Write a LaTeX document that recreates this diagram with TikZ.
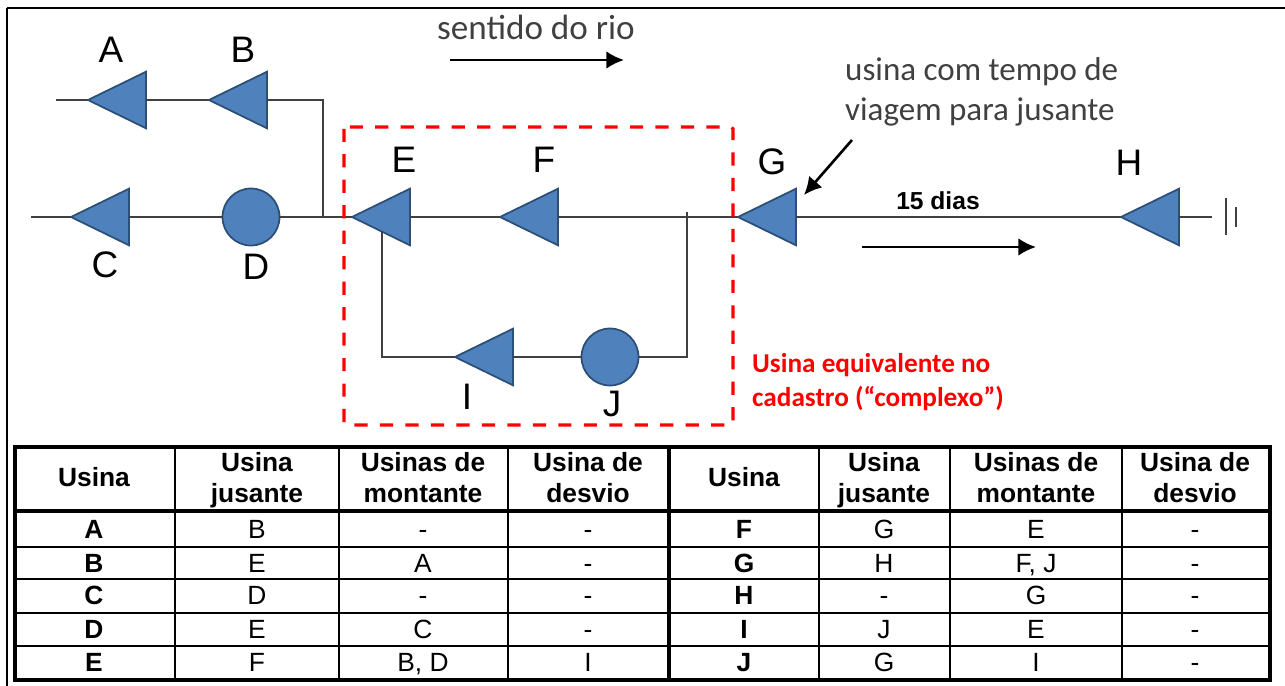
\documentclass[tikz,border=0pt]{standalone}
\usepackage{fontspec}
\setmainfont{Liberation Sans}
\newfontfamily\notefont{Carlito}
\usetikzlibrary{shapes.geometric,arrows.meta}

\definecolor{usinablue}{HTML}{4F81BD}
\definecolor{usinaedge}{HTML}{2B4F77}
\definecolor{riogray}{HTML}{404040}

\tikzset{
  triusina/.style={draw=usinaedge,fill=usinablue,line width=1pt,isosceles triangle,
    isosceles triangle apex angle=52,shape border rotate=180,inner sep=0pt,outer sep=0pt,
    minimum height=1.16cm,anchor=apex},
  circusina/.style={draw=usinaedge,fill=usinablue,line width=1pt,circle,inner sep=0pt,
    outer sep=0pt,minimum size=1.14cm},
  rio/.style={draw=riogray,line width=1.5pt},
  seta/.style={draw=black,line width=1.5pt,-{Latex[length=10pt,width=10pt]}},
  letra/.style={font=\fontsize{21}{24}\selectfont},
  nota/.style={font=\notefont\fontsize{20}{23}\selectfont,text=riogray,align=left},
  aviso/.style={font=\notefont\bfseries\fontsize{15.5}{19.5}\selectfont,text=red,align=left},
  cabec/.style={font=\bfseries\fontsize{15}{17.6}\selectfont,align=center,text depth=3pt},
  celula/.style={font=\fontsize{15}{17}\selectfont,text height=10.8pt,text depth=0pt},
  celulab/.style={font=\bfseries\fontsize{15}{17}\selectfont,text height=10.8pt,text depth=0pt}
}

\begin{document}
\begin{tikzpicture}[x=0.02cm,y=-0.02cm]
  \useasboundingbox (0,0) rectangle (1285,686);
  \draw[line width=0.8pt] (7,686) -- (7,8);
  \draw[line width=1.4pt] (7,8) -- (1285,8);

  \coordinate (fimA) at (56,100);
  \coordinate (fimC) at (31,217);
  \coordinate (curvaB) at (323,100);
  \coordinate (juncao) at (323,217);
  \coordinate (curvaE) at (382,357);
  \coordinate (curvaJ) at (687,357);
  \coordinate (topoJ) at (687,212);
  \coordinate (fimH) at (1212,217);
  \coordinate (terraA) at (1226,198);
  \coordinate (terraB) at (1226,235);
  \coordinate (terraC) at (1236,207);
  \coordinate (terraD) at (1236,227);
  \coordinate (saidaE) at (382,232);

  \node[triusina] (A) at (88,100) {};
  \node[triusina] (B) at (209,100) {};
  \node[triusina] (C) at (71,217) {};
  \node[circusina] (D) at (251,217) {};
  \node[triusina] (E) at (352,217) {};
  \node[triusina] (F) at (500,217) {};
  \node[triusina] (G) at (738,217) {};
  \node[triusina] (H) at (1121,217) {};
  \node[triusina] (I) at (455,357) {};
  \node[circusina] (J) at (610,357) {};

  \draw[rio] (fimA) -- (A.apex);
  \draw[rio] (A.lower side) -- (B.apex);
  \draw[rio] (B.lower side) -- (curvaB) -- (juncao);
  \draw[rio] (fimC) -- (C.apex);
  \draw[rio] (C.lower side) -- (D.west);
  \draw[rio] (D.east) -- (E.apex);
  \draw[rio] (E.lower side) -- (F.apex);
  \draw[rio] (F.lower side) -- (G.apex);
  \draw[rio] (G.lower side) -- (H.apex);
  \draw[rio] (H.lower side) -- (fimH);
  \draw[rio] (saidaE) -- (curvaE) -- (I.apex);
  \draw[rio] (I.lower side) -- (J.west);
  \draw[rio] (J.east) -- (curvaJ) -- (topoJ);
  \draw[rio] (terraA) -- (terraB);
  \draw[rio] (terraC) -- (terraD);

  \node[letra] (rotA) at (111,50) {A};
  \node[letra] (rotB) at (243,50) {B};
  \node[letra] (rotC) at (105,265) {C};
  \node[letra] (rotD) at (256,267) {D};
  \node[letra] (rotE) at (404,160) {E};
  \node[letra] (rotF) at (544,160) {F};
  \node[letra] (rotG) at (772,162) {G};
  \node[letra] (rotH) at (1129,163) {H};
  \node[letra] (rotI) at (467,397) {I};
  \node[letra] (rotJ) at (612,404) {J};

  \draw[red,line width=1.8pt,dash pattern=on 7.5pt off 7pt,rounded corners=1pt] (344,127) rectangle (733,425);

  \node[nota] (sentido) at (536,27) {sentido do rio};
  \coordinate (sentidoA) at (450,60);
  \coordinate (sentidoB) at (624,60);
  \draw[seta] (sentidoA) -- (sentidoB);
  \node[nota,font=\notefont\fontsize{18.8}{23}\selectfont,anchor=west] (tempo) at (839,92) {usina com tempo de\\viagem para jusante};
  \coordinate (tempoA) at (852,140);
  \coordinate (tempoB) at (804,195);
  \draw[seta] (tempoA) -- (tempoB);
  \node[font=\bfseries\fontsize{14}{15}\selectfont] (dias) at (938,201) {15 dias};
  \coordinate (diasA) at (862,247);
  \coordinate (diasB) at (1036,247);
  \draw[seta] (diasA) -- (diasB);
  \node[aviso,anchor=west] (complexo) at (746,382) {Usina equivalente no\\cadastro (“complexo”)};

  % tabela
  \draw[line width=2pt] (15,447) rectangle (1270,680);
  \draw[line width=2pt] (15,511) -- (1270,511);
  \foreach \yy in {547,579,613,646}
    \draw[line width=1.6pt] (15,\yy) -- (1270,\yy);
  \foreach \xx in {175,339,508,819,950,1122}
    \draw[line width=1.4pt] (\xx,447) -- (\xx,680);
  \draw[line width=2pt] (669,447) -- (669,680);

  \foreach \xx/\nome/\txt in {94/a/Usina,257/b/Usina\\jusante,423/c/Usinas de\\montante,588/d/Usina de\\desvio,
    744/e/Usina,884/f/Usina\\jusante,1036/g/Usinas de\\montante,1195/h/Usina de\\desvio}
    \node[cabec] (cab\nome) at (\xx,480) {\txt};

  \foreach \yy/\lin/\ca/\cb/\cc/\cd/\ce/\cf/\cg/\ch in {
    529/1/A/B/-/-/F/G/E/-,
    563/2/B/E/A/-/G/H/{F, J}/-,
    595/3/C/D/-/-/H/-/G/-,
    629/4/D/E/C/-/I/J/E/-,
    662/5/E/F/{B, D}/I/J/G/I/-}{
    \node[celulab] (a\lin) at (94,\yy) {\ca};
    \node[celula] (b\lin) at (257,\yy) {\cb};
    \node[celula] (c\lin) at (423,\yy) {\cc};
    \node[celula] (d\lin) at (588,\yy) {\cd};
    \node[celulab] (e\lin) at (744,\yy) {\ce};
    \node[celula] (f\lin) at (884,\yy) {\cf};
    \node[celula] (g\lin) at (1036,\yy) {\cg};
    \node[celula] (h\lin) at (1195,\yy) {\ch};
  }
\end{tikzpicture}
\end{document}
